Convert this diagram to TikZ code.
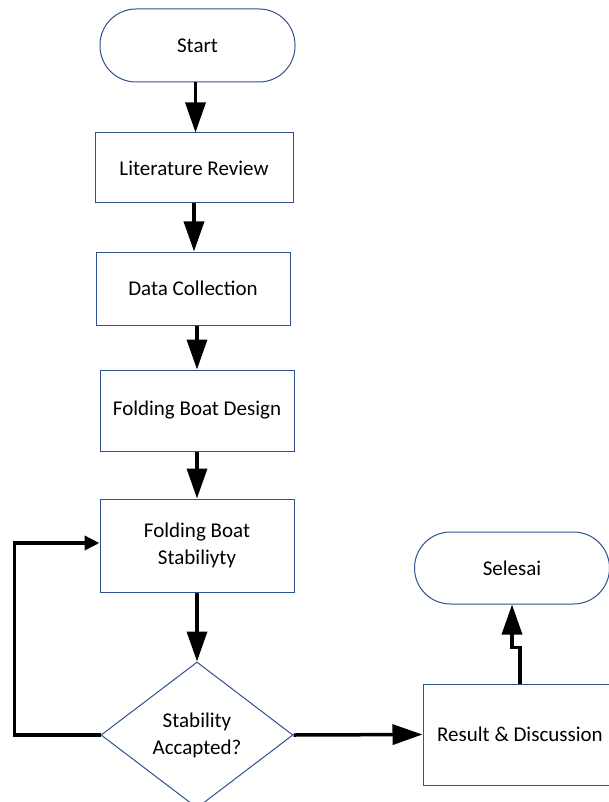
\documentclass[tikz,border=0pt]{standalone}
\usepackage{fontspec}
\setmainfont{Carlito}
\usetikzlibrary{arrows.meta,shapes.geometric,calc}
\definecolor{boxblue}{RGB}{47,82,143}
\begin{document}
\begin{tikzpicture}[x=1pt,y=-1pt,
  every node/.style={font=\fontsize{21}{27}\selectfont, align=center, inner sep=0pt},
  procbox/.style={draw=boxblue, line width=1pt, fill=white, rectangle},
  termbox/.style={draw=boxblue, line width=1pt, fill=white, rectangle, rounded corners=36pt},
  decbox/.style={draw=boxblue, line width=1pt, fill=white, diamond},
  flow/.style={line width=3.5pt, -{Triangle[length=30pt,width=20pt]}},
  backflow/.style={line width=3.5pt, -{Triangle[length=15pt,width=14pt]}}
]
\useasboundingbox (0,0) rectangle (608,802);

% process steps
\node[termbox, minimum width=195pt, minimum height=73pt] (start) at (197.5,45.5) {Start};
\node[procbox, minimum width=198pt, minimum height=70pt] (lit) at (194,168) {Literature Review};
\node[procbox, minimum width=194pt, minimum height=73pt] (data) at (193,288.5) {Data Collection};
\node[procbox, minimum width=194pt, minimum height=81pt] (design) at (197,410.5) {Folding Boat Design};
\node[procbox, minimum width=194pt, minimum height=93pt] (stab) at (197,545.5) {Folding Boat\\Stabiliyty};
\node[decbox, minimum width=192pt, minimum height=146pt] (dec) at (197,735) {Stability\\Accapted?};
\node[procbox, minimum width=194pt, minimum height=101pt] (res) at (520,734.5) {Result \& Discussion};
\node[termbox, minimum width=195pt, minimum height=72pt] (fin) at (512,568) {Selesai};

% connectors
\coordinate (s1) at ($(start.south)+(-2,0)$);
\coordinate (s3) at ($(data.south)+(4,0)$);
\coordinate (loopin) at ($(stab.west)+(0,-2.5)$);
\draw[flow] (s1) -- (s1 |- lit.north);
\draw[flow] (lit.south) -- (lit.south |- data.north);
\draw[flow] (s3) -- (s3 |- design.north);
\draw[flow] (design.south) -- (stab.north);
\draw[flow] (stab.south) -- (dec.north);
\draw[backflow] (dec.west) -- ++(-86,0) |- (loopin);
\draw[flow] (dec.east) -- (res.west);
\coordinate (jog) at ($(res.north)+(0,-36)$);
\draw[flow] (res.north) -- (jog) -- (jog -| fin.south) -- (fin.south);
\end{tikzpicture}
\end{document}
